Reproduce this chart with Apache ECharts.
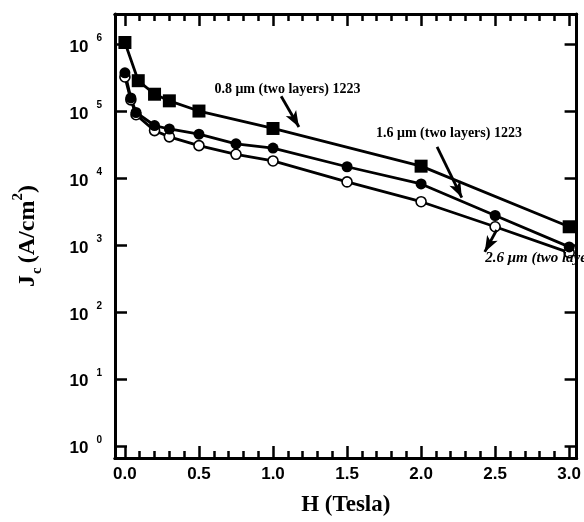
<!DOCTYPE html>
<html lang="en">
<head>
  <meta charset="UTF-8">
  <title>Jc vs H</title>
  <script src="https://cdn.jsdelivr.net/npm/echarts@6/dist/echarts.min.js"></script>
  <style>
    html, body { margin: 0; padding: 0; background: #fff; }
    #main { width: 584px; height: 522px; }
  </style>
</head>
<body>
<div id="main"></div>
<script type="text/javascript">
// 0.8 um (squares)
var hSq  = [0, 0.09, 0.2, 0.3, 0.5, 1.0, 2.0, 3.0];
var jSq  = [1.08e6, 2.9e5, 1.82e5, 1.45e5, 1.02e5, 5.6e4, 1.53e4, 1.9e3];
// 1.6 um (filled circles)
var hFc  = [0, 0.04, 0.075, 0.2, 0.3, 0.5, 0.75, 1.0, 1.5, 2.0, 2.5, 3.0];
var jFc  = [3.8e5, 1.6e5, 9.7e4, 6.2e4, 5.5e4, 4.6e4, 3.3e4, 2.85e4, 1.5e4, 8.3e3, 2.8e3, 950];
// 2.6 um (open circles)
var hOc  = [0, 0.04, 0.075, 0.2, 0.3, 0.5, 0.75, 1.0, 1.5, 2.0, 2.5, 3.0];
var jOc  = [3.3e5, 1.5e5, 9.0e4, 5.2e4, 4.2e4, 3.1e4, 2.3e4, 1.83e4, 8.9e3, 4.5e3, 1.9e3, 780];

var xMajor = [0, 0.5, 1.0, 1.5, 2.0, 2.5, 3.0];
var xMinor = [0, 0.1, 0.2, 0.3, 0.4, 0.5, 0.6, 0.7, 0.8, 0.9, 1.0, 1.1, 1.2, 1.3, 1.4, 1.5,
              1.6, 1.7, 1.8, 1.9, 2.0, 2.1, 2.2, 2.3, 2.4, 2.5, 2.6, 2.7, 2.8, 2.9, 3.0];
var xMin = -0.067, xMax = 3.05;
var yMin = 0.664, yMax = 2.88e6;

function pairs(xs, ys) {
  var out = [];
  for (var i = 0; i < xs.length; i++) out.push([xs[i], ys[i]]);
  return out;
}

var sansB = 'Liberation Sans';
var serif = 'Liberation Serif';

function xAxisOf(pos, vals, len, labels) {
  return {
    type: 'value', position: pos, min: xMin, max: xMax,
    axisLine: { show: true, onZero: false, lineStyle: { color: '#000', width: 3 } },
    axisTick: { show: true, inside: true, length: len, customValues: vals,
                lineStyle: { color: '#000', width: 2.5 } },
    axisLabel: labels ? {
      show: true, customValues: vals, margin: 8,
      color: '#000', fontFamily: sansB, fontWeight: 'bold', fontSize: 17,
      formatter: function (v) { return v.toFixed(1); }
    } : { show: false },
    splitLine: { show: false }
  };
}

function yAxisOf(pos, labels) {
  return {
    type: 'log', logBase: 10, position: pos, min: yMin, max: yMax,
    axisLine: { show: true, onZero: false, lineStyle: { color: '#000', width: 3 } },
    axisTick: { show: true, inside: true, length: 12, lineStyle: { color: '#000', width: 2.5 } },
    minorTick: { show: false },
    axisLabel: labels ? {
      show: true, margin: 13, showMinLabel: false, showMaxLabel: false,
      formatter: function (v) {
        var e = Math.round(Math.log(v) / Math.LN10);
        return '{b|10}{s|' + e + '}';
      },
      rich: {
        b: { fontFamily: sansB, fontWeight: 'bold', fontSize: 17, color: '#000', lineHeight: 22, verticalAlign: 'bottom' },
        s: { fontFamily: sansB, fontWeight: 'bold', fontSize: 10, color: '#000', lineHeight: 22, verticalAlign: 'top', padding: [0, 0, 0, 8] }
      }
    } : { show: false },
    splitLine: { show: false }
  };
}

var yAxisLeft = yAxisOf('left', true);
yAxisLeft.name = '{a|J}{c|c}{a|(A/cm}{t|2}{a|)}';
yAxisLeft.nameLocation = 'middle';
yAxisLeft.nameRotate = 90;
yAxisLeft.nameGap = 70;
yAxisLeft.nameTextStyle = {
  rich: {
    a: { fontFamily: serif, fontWeight: 'bold', fontSize: 24, color: '#000', lineHeight: 34 },
    c: { fontFamily: serif, fontWeight: 'bold', fontSize: 15, color: '#000', lineHeight: 34, verticalAlign: 'bottom', padding: [0, 4, 0, 1] },
    t: { fontFamily: serif, fontWeight: 'bold', fontSize: 15, color: '#000', lineHeight: 34, verticalAlign: 'top' }
  }
};

var xAxisBottom = xAxisOf('bottom', xMajor, 12, true);
xAxisBottom.name = 'H (Tesla)';
xAxisBottom.nameLocation = 'middle';
xAxisBottom.nameGap = 36;
xAxisBottom.nameTextStyle = { fontFamily: serif, fontWeight: 'bold', fontSize: 23, color: '#000' };

var lineW = 2.8;
var annFont = { fontFamily: serif, fontWeight: 'bold', fontSize: 14, color: '#000' };

var myChart = echarts.init(document.getElementById('main'), null, { renderer: 'canvas' });
option = {
  animation: false,
  backgroundColor: '#fff',
  grid: { left: 115, right: 3, top: 14, bottom: 60, containLabel: false },
  xAxis: [
    xAxisBottom,
    xAxisOf('bottom', xMinor, 7, false),
    xAxisOf('top', xMajor, 12, false),
    xAxisOf('top', xMinor, 7, false)
  ],
  yAxis: [
    yAxisLeft,
    yAxisOf('right', false)
  ],
  series: [
    {
      name: '2.6 um', type: 'line', xAxisIndex: 0, yAxisIndex: 0,
      data: pairs(hOc, jOc),
      symbol: 'circle', symbolSize: 10, showAllSymbol: true,
      lineStyle: { color: '#000', width: lineW },
      itemStyle: { color: '#fff', borderColor: '#000', borderWidth: 1.6 },
      markPoint: {
        symbol: 'circle', symbolSize: 1, itemStyle: { color: 'rgba(0,0,0,0)' },
        label: { show: true, position: 'right', distance: 0, formatter: '{b}',
                 fontFamily: serif, fontWeight: 'bold', fontStyle: 'italic', fontSize: 15, color: '#000' },
        data: [{ name: '2.6 μm (two layers) 1223', coord: [2.43, 653] }]
      },
      markLine: {
        silent: true, symbol: ['none', 'arrow'], symbolSize: [9, 16],
        lineStyle: { color: '#000', width: lineW, type: 'solid' }, label: { show: false },
        data: [[{ coord: [2.51, 1700] }, { coord: [2.43, 800] }]]
      }
    },
    {
      name: '1.6 um', type: 'line', xAxisIndex: 0, yAxisIndex: 0,
      data: pairs(hFc, jFc),
      symbol: 'circle', symbolSize: 11, showAllSymbol: true,
      lineStyle: { color: '#000', width: lineW },
      itemStyle: { color: '#000' },
      markPoint: {
        symbol: 'circle', symbolSize: 1, itemStyle: { color: 'rgba(0,0,0,0)' },
        label: Object.assign({ show: true, position: 'right', distance: 0, formatter: '{b}' }, annFont),
        data: [{ name: '1.6 μm (two layers) 1223', coord: [1.692, 4.8e4] }]
      },
      markLine: {
        silent: true, symbol: ['none', 'arrow'], symbolSize: [9, 16],
        lineStyle: { color: '#000', width: lineW, type: 'solid' }, label: { show: false },
        data: [[{ coord: [2.108, 2.98e4] }, { coord: [2.275, 5.2e3] }]]
      }
    },
    {
      name: '0.8 um', type: 'line', xAxisIndex: 0, yAxisIndex: 0,
      data: pairs(hSq, jSq),
      symbol: 'rect', symbolSize: 13, showAllSymbol: true,
      lineStyle: { color: '#000', width: lineW },
      itemStyle: { color: '#000' },
      markPoint: {
        symbol: 'circle', symbolSize: 1, itemStyle: { color: 'rgba(0,0,0,0)' },
        label: Object.assign({ show: true, position: 'right', distance: 0, formatter: '{b}' }, annFont),
        data: [{ name: '0.8 μm (two layers) 1223', coord: [0.601, 2.15e5] }]
      },
      markLine: {
        silent: true, symbol: ['none', 'arrow'], symbolSize: [9, 16],
        lineStyle: { color: '#000', width: lineW, type: 'solid' }, label: { show: false },
        data: [[{ coord: [1.055, 1.7e5] }, { coord: [1.175, 5.9e4] }]]
      }
    }
  ]
};
myChart.setOption(option);
</script>
</body>
</html>
